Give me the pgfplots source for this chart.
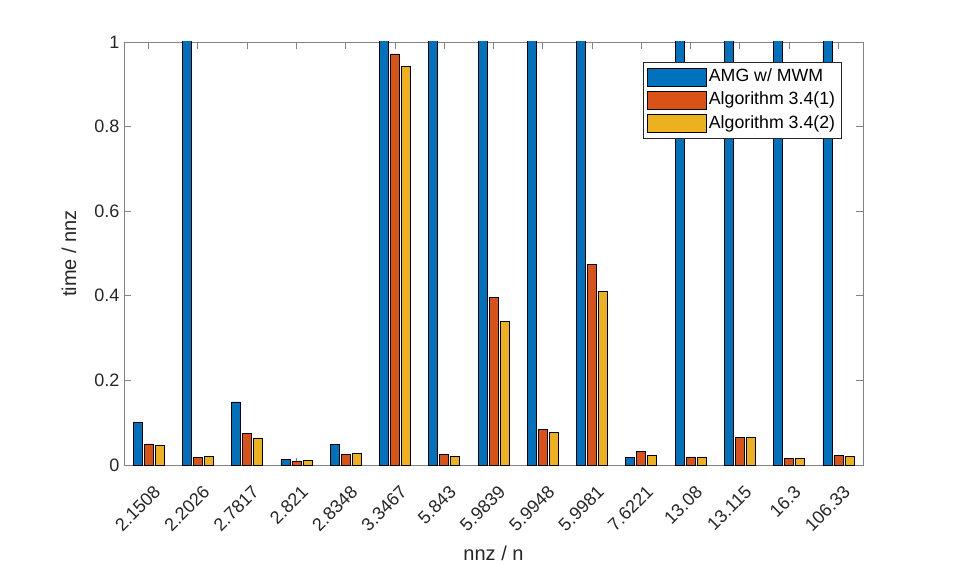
\documentclass[border=0pt]{standalone}
\usepackage{pgfplots}
\pgfplotsset{compat=1.18}
\usepackage{fontspec}
\setmainfont{Liberation Sans}
\definecolor{mblue}{RGB}{0,114,189}
\definecolor{morange}{RGB}{217,83,25}
\definecolor{myellow}{RGB}{237,177,32}
\definecolor{axgray}{RGB}{130,130,130}
\begin{document}
\begin{tikzpicture}
\path[use as bounding box] (-93pt,-75pt) rectangle (621.75pt,348.75pt);
\begin{axis}[
  scale only axis, width=554.25pt, height=317.25pt, at={(0pt,0pt)}, anchor=south west,
  xmin=-0.5, xmax=14.5, ymin=0, ymax=1,
  xtick={0,...,14},
  xticklabels={2.1508,2.2026,2.7817,2.821,2.8348,3.3467,5.843,5.9839,5.9948,5.9981,7.6221,13.08,13.115,16.3,106.33},
  ytick={0,0.2,0.4,0.6,0.8,1},
  yticklabels={0,0.2,0.4,0.6,0.8,1},
  tick label style={font=\fontsize{13.5}{15}\selectfont, text=black!85},
  x tick label style={xshift=3pt, yshift=-13pt, rotate=45, anchor=north east, inner sep=1pt},
  label style={font=\fontsize{15}{17}\selectfont, text=black!85},
  xlabel={nnz / n}, ylabel={time / nnz},
  xlabel style={at={(axis description cs:0.5,-0.209)}, anchor=center},
  ylabel style={at={(axis description cs:-0.0744,0.5)}, anchor=center},
  tick align=inside, major tick length=5pt,
  axis line style={axgray}, tick style={axgray, line width=0.6pt},
  every axis plot/.append style={draw=black, line width=0.5pt, bar width=6.75pt},
  legend cell align=left,
  legend style={at={(1,1)}, anchor=north east, xshift=-15.75pt, yshift=-15pt,
    font=\fontsize{13.3}{15}\selectfont, draw=black!85, row sep=0.5pt, inner xsep=3pt, inner ysep=2.5pt,
    nodes={inner sep=2pt, text height=10pt, text depth=3pt}},
  legend image code/.code={\draw[#1] (0pt,-6.75pt) rectangle (44pt,6.75pt);},
  clip=true,
]
\addplot[ybar, fill=mblue, bar shift=-8.25pt] coordinates {
(0,0.101) (1,2) (2,0.149) (3,0.014) (4,0.048) (5,2) (6,2) (7,2) (8,2) (9,2) (10,0.018) (11,2) (12,2) (13,2) (14,2)};
\addplot[ybar, fill=morange, bar shift=0pt] coordinates {
(0,0.050) (1,0.018) (2,0.075) (3,0.0095) (4,0.026) (5,0.972) (6,0.026) (7,0.397) (8,0.084) (9,0.475) (10,0.033) (11,0.019) (12,0.066) (13,0.015) (14,0.022)};
\addplot[ybar, fill=myellow, bar shift=8.25pt] coordinates {
(0,0.0456) (1,0.0196) (2,0.064) (3,0.010) (4,0.028) (5,0.943) (6,0.021) (7,0.340) (8,0.077) (9,0.411) (10,0.0236) (11,0.019) (12,0.065) (13,0.015) (14,0.021)};
\legend{AMG w/ MWM, Algorithm 3.4(1), Algorithm 3.4(2)}
\node[anchor=south west, font=\fontsize{13.5}{15}\selectfont, text=black!85, inner sep=1pt] at (rel axis cs:0,1) {$\times$10\textsuperscript{-3}};
\end{axis}
\end{tikzpicture}
\end{document}
